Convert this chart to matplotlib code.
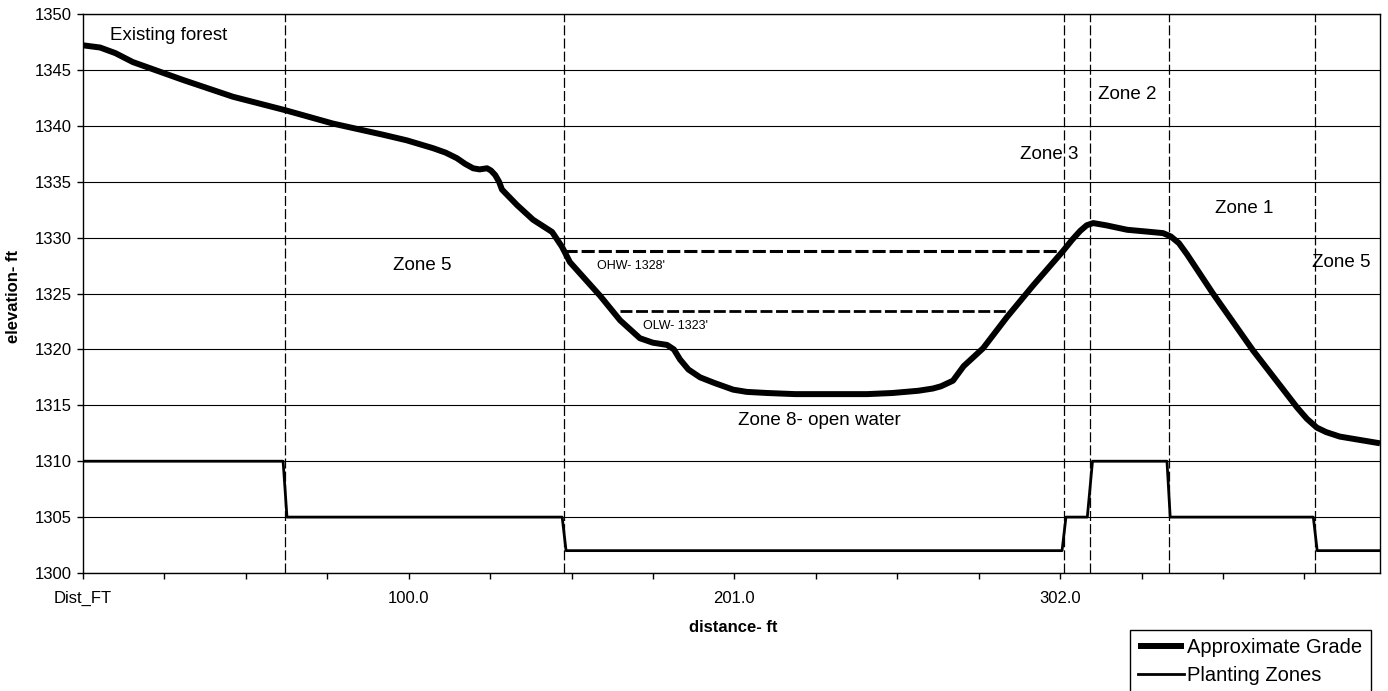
import matplotlib
matplotlib.use("Agg")
import matplotlib.pyplot as plt
import numpy as np

plt.rcParams['font.family'] = ['Liberation Sans', 'DejaVu Sans']

# ground profile (distance ft, elevation ft)
grade_x = [0, 5.3, 10, 15.4, 30.9, 46.3, 62.4, 77.2, 92.7, 100, 108.1, 112, 115.5,
           118, 120.5, 122.5, 124.8, 126, 127.3, 128.5, 129.4, 134.1, 139.0, 144.9,
           147.9, 150.4, 159.7, 165.9, 172.0, 176, 180.4, 182.5, 184.4, 187, 190.6,
           195, 200.8, 205, 211.3, 220, 242.2, 250, 258, 262.5, 265, 268.7, 272,
           278.0, 285.4, 293.4, 302.7, 305.5, 308.0, 310, 312, 316, 322.5, 330,
           333.6, 336, 338.5, 341, 349.0, 361.4, 375.0, 378, 381.1, 384, 388.2,
           400.6]
grade_y = [1347.2, 1347.0, 1346.5, 1345.7, 1344.1, 1342.6, 1341.4, 1340.2, 1339.2,
           1338.7, 1338.0, 1337.6, 1337.1, 1336.6, 1336.2, 1336.1, 1336.2, 1336.0,
           1335.6, 1335.0, 1334.3, 1332.9, 1331.6, 1330.5, 1329.2, 1327.8, 1324.8,
           1322.6, 1321.0, 1320.6, 1320.4, 1320.0, 1319.1, 1318.2, 1317.5, 1317.0,
           1316.4, 1316.2, 1316.1, 1316.0, 1316.0, 1316.1, 1316.3, 1316.5, 1316.7,
           1317.2, 1318.5, 1320.1, 1322.9, 1325.7, 1328.8, 1329.8, 1330.6, 1331.1,
           1331.3, 1331.1, 1330.7, 1330.5, 1330.4, 1330.1, 1329.5, 1328.5, 1325.0,
           1319.9, 1314.8, 1313.8, 1313.0, 1312.6, 1312.2, 1311.6]

# planting zone step series
zone_x = [0, 61.8, 63.0, 148.0, 149.2, 302.4, 303.6, 310.2, 311.8, 334.8, 335.8,
          380.0, 381.2, 400.6]
zone_y = [1310, 1310, 1305, 1305, 1302, 1302, 1305, 1305, 1310, 1310, 1305, 1305,
          1302, 1302]

zone_bounds = [62.4, 148.6, 303.0, 311.0, 335.4, 380.5]

ohw_level, ohw_span = 1328.8, (148.6, 301.8)
olw_level, olw_span = 1323.4, (165.9, 285.4)

zone_labels = ["Existing forest", "Zone 5", "Zone 8- open water", "Zone 3",
               "Zone 2", "Zone 1", "Zone 5"]
zone_label_x = [8.3, 95.7, 202.3, 289.4, 313.5, 349.6, 379.6]
zone_label_y = [1348.1, 1327.5, 1313.6, 1337.4, 1342.8, 1332.6, 1327.8]

tick_pos = [0, 100.6, 201.2, 301.8]
tick_labels = ["Dist_FT", "100.0", "201.0", "302.0"]

fig = plt.figure(figsize=(13.88, 6.91), dpi=100)
ax = fig.add_axes([83 / 1388, 1 - 573 / 691, (1380 - 83) / 1388, (573 - 14) / 691])

ax.set_xlim(0, 400.6)
ax.set_ylim(1300, 1350)
ax.set_yticks(np.arange(1300, 1351, 5))
ax.yaxis.grid(True, color='black', linewidth=0.8)
ax.set_axisbelow(True)

for b in zone_bounds:
    ax.axvline(b, color='black', linewidth=0.9, linestyle=(0, (8, 2.5)))

ax.plot(ohw_span, [ohw_level] * 2, color='black', linewidth=2.2, linestyle=(0, (4.3, 1.3)))
ax.plot(olw_span, [olw_level] * 2, color='black', linewidth=2.0, linestyle=(0, (4.3, 1.3)))
ax.text(158.8, 1327.5, "OHW- 1328'", fontsize=9, va='center')
ax.text(173.0, 1322.1, "OLW- 1323'", fontsize=9, va='center')

l1, = ax.plot(grade_x, grade_y, color='black', linewidth=4.3, solid_capstyle='butt',
              solid_joinstyle='round', label='Approximate Grade')
l2, = ax.plot(zone_x, zone_y, color='black', linewidth=2.0, label='Planting Zones')

for t, x, y in zip(zone_labels, zone_label_x, zone_label_y):
    ax.text(x, y, t, fontsize=13.5, va='center')

ax.set_xticks(tick_pos)
ax.set_xticklabels(tick_labels)
ax.set_xticks(np.arange(0, 400, 25.15), minor=True)
ax.tick_params(axis='x', which='both', direction='out', length=4, width=1, pad=9, labelsize=12)
ax.tick_params(axis='y', direction='out', length=4, width=1, pad=4, labelsize=12)
for s in ax.spines.values():
    s.set_color('black')
    s.set_linewidth(1)

fig.text(733 / 1388, 1 - 627 / 691, "distance- ft", fontsize=12, fontweight='bold',
         ha='center', va='center')
fig.text(14 / 1388, 1 - 296 / 691, "elevation- ft", fontsize=12, fontweight='bold',
         ha='center', va='center', rotation=90)

leg = fig.legend(handles=[l1, l2], loc='upper left',
                 bbox_to_anchor=(1130 / 1388, 1 - 630 / 691), fontsize=14.5,
                 frameon=True, fancybox=False, edgecolor='black', framealpha=1,
                 handlelength=2.3, handletextpad=0.15, borderpad=0.4,
                 labelspacing=0.45, borderaxespad=0)
leg.get_frame().set_linewidth(1)

fig.savefig("out.png", dpi=100)
